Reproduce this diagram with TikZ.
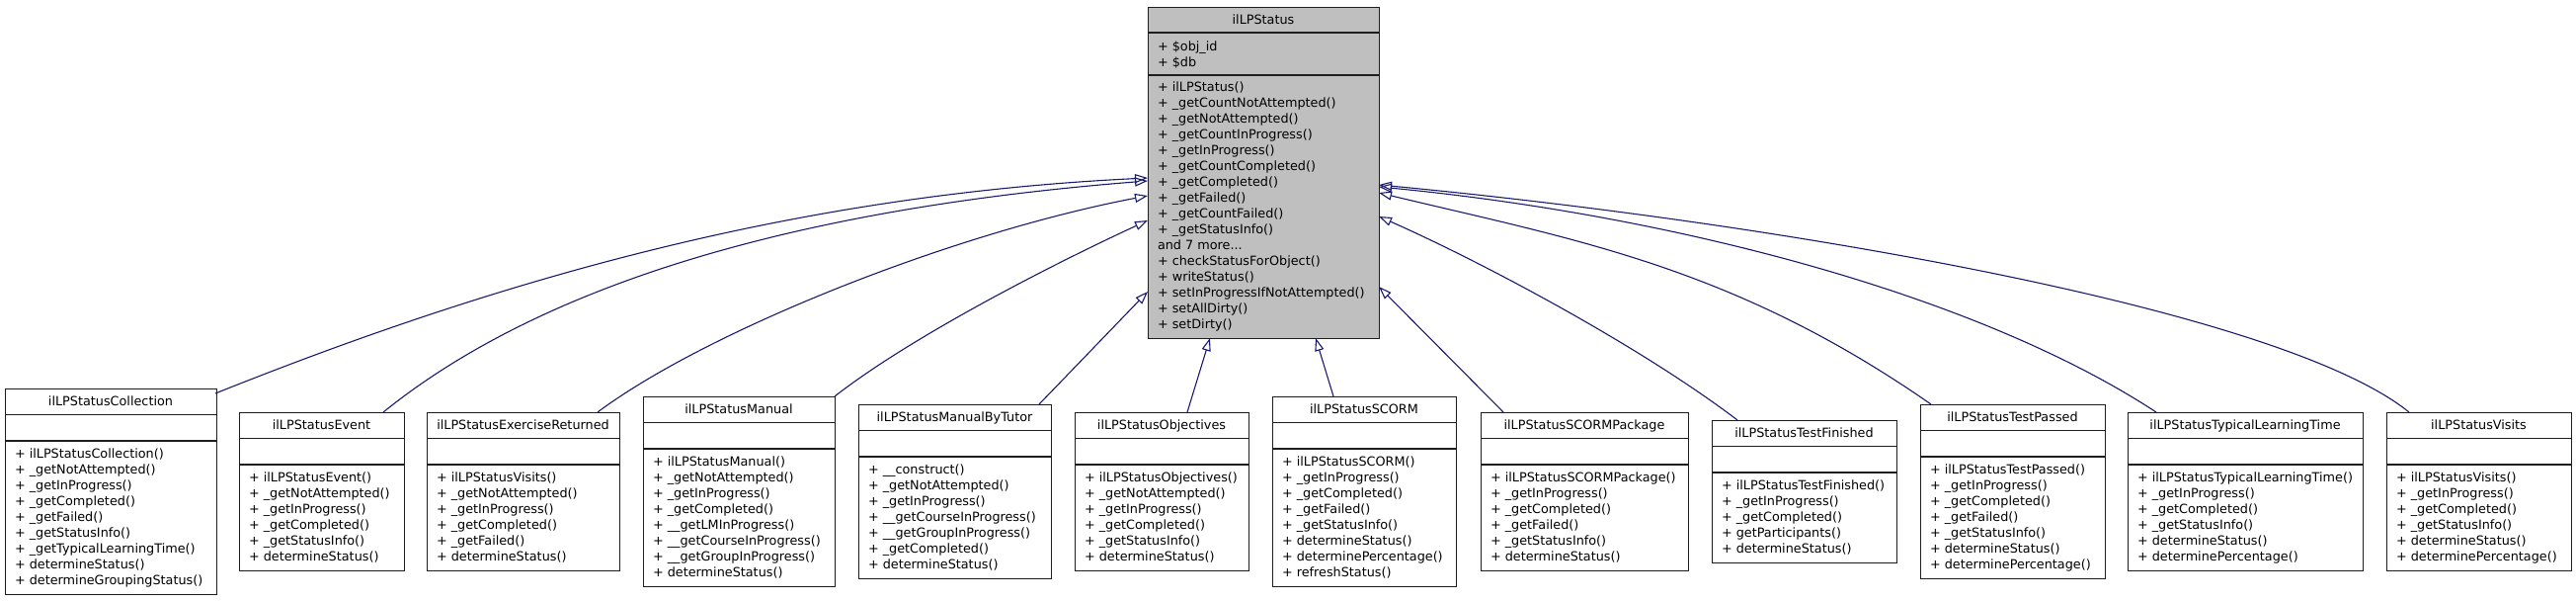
\documentclass[tikz,border=0pt]{standalone}
\usepackage{fontspec}
\setmainfont{DejaVu Sans}
\usetikzlibrary{arrows.meta,calc}
\definecolor{edgeblue}{RGB}{25,25,112}
\definecolor{basegray}{RGB}{191,191,191}
\definecolor{boxline}{RGB}{30,30,30}
\tikzset{
 cbox/.style={draw=boxline, line width=1pt, fill=white, inner sep=0pt, outer sep=0pt, anchor=north west},
 cdiv/.style={draw=boxline, line width=1.3pt},
 ctext/.style={inner sep=0pt, outer sep=0pt, font=\fontsize{12.8}{16}\selectfont},
 inh/.style={draw=edgeblue, line width=1.1pt, -{Triangle[open, length=13pt, width=9pt, line width=1.1pt]}},
}
\newcommand\andmoretext{and 7 more...}
\newcommand\classbox[7]{%
 \pgfmathsetmacro\cbW{#4-#2}%
 \pgfmathsetmacro\cbH{53+#5*16+11}%
 \node[cbox, minimum width=\cbW pt, minimum height=\cbH pt] (#1) at (#2,-#3) {};
 \draw[cdiv] (#2,{-(#3+26.5)}) -- (#4,{-(#3+26.5)});
 \draw[cdiv] (#2,{-(#3+53)}) -- (#4,{-(#3+53)});
 \node[ctext, anchor=base] (#1-t) at ({(#2+#4)/2},{-(#3+17.6)}) {#6};
 \foreach \m [count=\i] in {#7} {\node[ctext, anchor=base west] (#1-\i) at (#2+10,{-(#3+53+17.6+(\i-1)*16)}) {\m};}
}
\begin{document}
\begin{tikzpicture}[x=1pt,y=1pt]
\fill[white] (0,0) rectangle (2608,-608);
\useasboundingbox (0,0) rectangle (2608,-608);

% base class
\node[cbox, fill=basegray, minimum width=234pt, minimum height=335pt] (base) at (1162,-7) {};
\draw[cdiv] (1162,-33) -- (1396,-33);
\draw[cdiv] (1162,-76) -- (1396,-76);
\node[ctext, anchor=base] (base-t) at (1279,-24.6) {ilLPStatus};
\foreach \m [count=\i] in {+ \$obj\_id, + \$db}
  {\node[ctext, anchor=base west] (base-a\i) at (1172,{-(51.6+(\i-1)*16)}) {\m};}
\foreach \m [count=\i] in {+ ilLPStatus(), + \_getCountNotAttempted(), + \_getNotAttempted(), + \_getCountInProgress(), + \_getInProgress(), + \_getCountCompleted(), + \_getCompleted(), + \_getFailed(), + \_getCountFailed(), + \_getStatusInfo(), \andmoretext, + checkStatusForObject(), + writeStatus(), + setInProgressIfNotAttempted(), + setAllDirty(), + setDirty()}
  {\node[ctext, anchor=base west] (base-m\i) at (1172,{-(92.6+(\i-1)*16)}) {\m};}

% derived classes
\classbox{coll}{5}{393}{219}{9}{ilLPStatusCollection}{+ ilLPStatusCollection(), + \_getNotAttempted(), + \_getInProgress(), + \_getCompleted(), + \_getFailed(), + \_getStatusInfo(), + \_getTypicalLearningTime(), + determineStatus(), + determineGroupingStatus()}
\classbox{evt}{242}{417}{409}{6}{ilLPStatusEvent}{+ ilLPStatusEvent(), + \_getNotAttempted(), + \_getInProgress(), + \_getCompleted(), + \_getStatusInfo(), + determineStatus()}
\classbox{exr}{432}{417}{627}{6}{ilLPStatusExerciseReturned}{+ ilLPStatusVisits(), + \_getNotAttempted(), + \_getInProgress(), + \_getCompleted(), + \_getFailed(), + determineStatus()}
\classbox{man}{651}{401}{845}{8}{ilLPStatusManual}{+ ilLPStatusManual(), + \_getNotAttempted(), + \_getInProgress(), + \_getCompleted(), + \_\_getLMInProgress(), + \_\_getCourseInProgress(), + \_\_getGroupInProgress(), + determineStatus()}
\classbox{mbt}{869}{409}{1064}{7}{ilLPStatusManualByTutor}{+ \_\_construct(), + \_getNotAttempted(), + \_getInProgress(), + \_\_getCourseInProgress(), + \_\_getGroupInProgress(), + \_getCompleted(), + determineStatus()}
\classbox{obj}{1088}{417}{1264}{6}{ilLPStatusObjectives}{+ ilLPStatusObjectives(), + \_getNotAttempted(), + \_getInProgress(), + \_getCompleted(), + \_getStatusInfo(), + determineStatus()}
\classbox{scorm}{1288}{401}{1474}{8}{ilLPStatusSCORM}{+ ilLPStatusSCORM(), + \_getInProgress(), + \_getCompleted(), + \_getFailed(), + \_getStatusInfo(), + determineStatus(), + determinePercentage(), + refreshStatus()}
\classbox{scpk}{1499}{417}{1709}{6}{ilLPStatusSCORMPackage}{+ ilLPStatusSCORMPackage(), + \_getInProgress(), + \_getCompleted(), + \_getFailed(), + \_getStatusInfo(), + determineStatus()}
\classbox{tfin}{1733}{425}{1920}{5}{ilLPStatusTestFinished}{+ ilLPStatusTestFinished(), + \_getInProgress(), + \_getCompleted(), + getParticipants(), + determineStatus()}
\classbox{tpas}{1944}{409}{2131}{7}{ilLPStatusTestPassed}{+ ilLPStatusTestPassed(), + \_getInProgress(), + \_getCompleted(), + \_getFailed(), + \_getStatusInfo(), + determineStatus(), + determinePercentage()}
\classbox{tlt}{2154}{417}{2392}{6}{ilLPStatusTypicalLearningTime}{+ ilLPStatusTypicalLearningTime(), + \_getInProgress(), + \_getCompleted(), + \_getStatusInfo(), + determineStatus(), + determinePercentage()}
\classbox{vis}{2416}{417}{2603}{6}{ilLPStatusVisits}{+ ilLPStatusVisits(), + \_getInProgress(), + \_getCompleted(), + \_getStatusInfo(), + determineStatus(), + determinePercentage()}

% inheritance edges
\draw[inh] ([shift={(213,-5)}]coll.north west) .. controls (518,-278) and (813,-197) .. ([yshift=-173pt]base.north west);
\draw[inh] ([xshift=146pt]evt.north west) .. controls (538,-296) and (783,-213) .. ([yshift=-176pt]base.north west);
\draw[inh] ([xshift=173pt]exr.north west) .. controls (715,-335) and (963,-236) .. ([yshift=-191pt]base.north west);
\draw[inh] (man.north east) .. controls (926,-338) and (1073,-264) .. ([yshift=-216pt]base.north west);
\draw[inh] ([xshift=183pt]mbt.north west) -- ([yshift=-288pt]base.north west);
\draw[inh] ([xshift=114pt]obj.north west) -- ([xshift=63pt]base.south west);
\draw[inh] ([xshift=62pt]scorm.north west) -- ([xshift=170pt]base.south west);
\draw[inh] ([xshift=23pt]scpk.north west) -- ([yshift=-283pt]base.north east);
\draw[inh] ([xshift=26pt]tfin.north west) .. controls (1659,-349) and (1496,-263) .. ([yshift=-212pt]base.north east);
\draw[inh] ([xshift=11pt]tpas.north west) .. controls (1755,-270) and (1596,-243) .. ([yshift=-188pt]base.north east);
\draw[inh] ([xshift=29pt]tlt.north west) .. controls (2003,-299) and (1696,-218) .. ([yshift=-182pt]base.north east);
\draw[inh] ([xshift=23pt]vis.north west) .. controls (2309,-312) and (1796,-225) .. ([yshift=-180pt]base.north east);
\end{tikzpicture}
\end{document}
